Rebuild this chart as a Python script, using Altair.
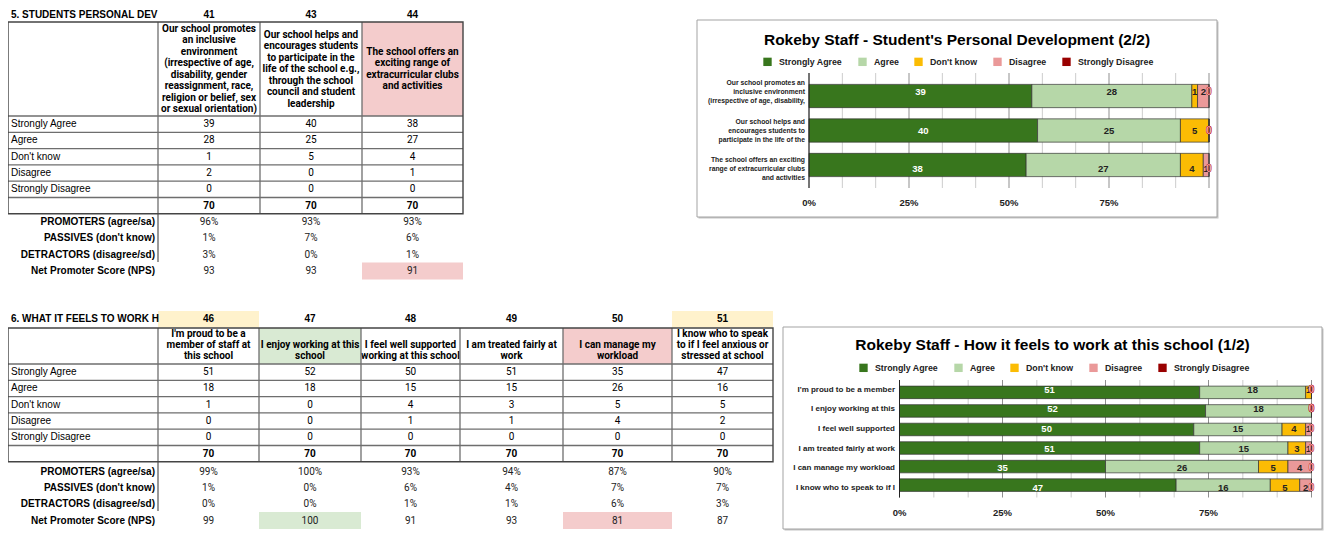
import altair as alt
import pandas as pd

# ---------------- data ----------------
categories = ["Strongly Agree", "Agree", "Don't know", "Disagree", "Strongly Disagree"]
category_colors = ["#38761d", "#b6d7a8", "#fbbc04", "#ea9999", "#990000"]
summary_labels = ["PROMOTERS (agree/sa)", "PASSIVES (don't know)",
                  "DETRACTORS (disagree/sd)", "Net Promoter Score (NPS)"]

# Section 5
s5_title = "5. STUDENTS PERSONAL DEV"
s5_numbers = ["41", "43", "44"]
s5_headers = [
    ["Our school promotes", "an inclusive", "environment", "(irrespective of age,",
     "disability, gender", "reassignment, race,", "religion or belief, sex", "or sexual orientation)"],
    ["Our school helps and", "encourages students", "to participate in the",
     "life of the school e.g.,", "through the school", "council and student", "leadership"],
    ["The school offers an", "exciting range of", "extracurricular clubs", "and activities"],
]
s5_chart_labels = [
    ["Our school promotes an", "inclusive environment", "(irrespective of age, disability,"],
    ["Our school helps and", "encourages students to", "participate in the life of the"],
    ["The school offers an exciting", "range of extracurricular clubs", "and activities"],
]
s5_strongly_agree = [39, 40, 38]
s5_agree = [28, 25, 27]
s5_dont_know = [1, 5, 4]
s5_disagree = [2, 0, 1]
s5_strongly_disagree = [0, 0, 0]
s5_total = [70, 70, 70]
s5_promoters = ["96%", "93%", "93%"]
s5_passives = ["1%", "7%", "6%"]
s5_detractors = ["3%", "0%", "1%"]
s5_nps = ["93", "93", "91"]
s5_chart_title = "Rokeby Staff - Student's Personal Development (2/2)"

# Section 6
s6_title = "6. WHAT IT FEELS TO WORK H"
s6_numbers = ["46", "47", "48", "49", "50", "51"]
s6_headers = [
    ["I'm proud to be a", "member of staff at", "this school"],
    ["I enjoy working at this", "school"],
    ["I feel well supported", "working at this school"],
    ["I am treated fairly at", "work"],
    ["I can manage my", "workload"],
    ["I know who to speak", "to if I feel anxious or", "stressed at school"],
]
s6_chart_labels = [["I'm proud to be a member"], ["I enjoy working at this"], ["I feel well supported"],
                   ["I am treated fairly at work"], ["I can manage my workload"], ["I know who to speak to if I"]]
s6_strongly_agree = [51, 52, 50, 51, 35, 47]
s6_agree = [18, 18, 15, 15, 26, 16]
s6_dont_know = [1, 0, 4, 3, 5, 5]
s6_disagree = [0, 0, 1, 1, 4, 2]
s6_strongly_disagree = [0, 0, 0, 0, 0, 0]
s6_total = [70, 70, 70, 70, 70, 70]
s6_promoters = ["99%", "100%", "93%", "94%", "87%", "90%"]
s6_passives = ["1%", "0%", "6%", "4%", "7%", "7%"]
s6_detractors = ["0%", "0%", "1%", "1%", "6%", "3%"]
s6_nps = ["99", "100", "91", "93", "81", "87"]
s6_chart_title = "Rokeby Staff - How it feels to work at this school (1/2)"

PINK = "#f4cccc"
GREEN = "#d9ead3"
YELLOW = "#fff2cc"
s5_highlights = [("header", 2, PINK), ("nps", 2, PINK)]
s6_highlights = [("number", 0, YELLOW), ("number", 5, YELLOW), ("header", 1, GREEN),
                 ("header", 4, PINK), ("nps", 1, GREEN), ("nps", 4, PINK)]

# ---------------- layout (page pixels) ----------------
W, H = 1319, 529
OX, OY = 8, 8
PX = alt.Scale(domain=[OX, OX + W], range=[0, W], nice=False, zero=False)
PY = alt.Scale(domain=[OY, OY + H], range=[0, H], nice=False, zero=False)

T5 = dict(cols=[8, 158, 260, 362, 463], title_y=15, head=(22, 116), row_h=16.3,
          sum_y0=222, sum_step=16.4, head_mode="middle", head_lh=11.5, ext_bottom=262,
          nps_cell=(262.5, 279.5), num_cell=(7, 23))
T6 = dict(cols=[8, 158, 259, 361, 460, 563, 672, 773], title_y=319, head=(328, 364), row_h=16.3,
          sum_y0=471.5, sum_step=16.4, head_mode="bottom", head_lh=11, ext_bottom=511,
          nps_cell=(512, 529), num_cell=(311, 327.5))

C5 = dict(frame=(697, 20, 1217, 217), title=(957, 40), x0=809, x1=1209, y0=73, y1=188,
          label_x=805, axis_y=203, legend=(763, 57), label_size=6.8, line_h=9)
C6 = dict(frame=(783, 327, 1322, 529), title=(1052.5, 345), x0=899.5, x1=1311.5, y0=380, y1=497.5,
          label_x=895, axis_y=513, legend=(859, 363), label_size=8, line_h=9)


def px(f):
    return alt.X(f"{f}:Q", scale=PX, axis=None)


def py(f):
    return alt.Y(f"{f}:Q", scale=PY, axis=None)


def texts(rows, align="center", font="Liberation Sans", size=10, weight="normal",
          color="#000000", **kw):
    df = pd.DataFrame(rows, columns=["x", "y", "t"])
    return alt.Chart(df).mark_text(align=align, baseline="middle", font=font, fontSize=size,
                                   fontWeight=weight, color=color, **kw).encode(
        x=px("x"), y=py("y"), text="t:N")


def rules(rows, color, width):
    df = pd.DataFrame(rows, columns=["x", "y", "x2", "y2"])
    return alt.Chart(df).mark_rule(color=color, strokeWidth=width).encode(
        x=px("x"), y=py("y"), x2="x2:Q", y2="y2:Q")


def rects(rows, **mark):
    df = pd.DataFrame(rows, columns=["x", "y", "x2", "y2"])
    return alt.Chart(df).mark_rect(**mark).encode(x=px("x"), y=py("y"), x2="x2:Q", y2="y2:Q")


def table_layers(L, title, numbers, headers, values, total, summaries, highlights):
    cols = L["cols"]
    centers = [(a + b) / 2 for a, b in zip(cols[1:-1], cols[2:])]
    head_top, head_bot = L["head"]
    edges = [head_bot + k * L["row_h"] for k in range(7)]
    left, right = cols[0], cols[-1]
    out = []
    for kind, ci, col in highlights:
        x0, x1 = cols[ci + 1], cols[ci + 2]
        if kind == "header":
            y0, y1 = head_top, head_bot
        elif kind == "nps":
            y0, y1 = L["nps_cell"]
        else:
            y0, y1 = L["num_cell"]
        out.append(rects([(x0, y0, x1, y1)], color=col))
    # title + numbers
    out.append(texts([(11, L["title_y"], title)], align="left", weight="bold", size=10))
    out.append(texts([(c, L["title_y"], n) for c, n in zip(centers, numbers)], weight="bold", size=10))
    # headers
    lh = L["head_lh"]
    hrows = []
    for c, lines in zip(centers, headers):
        n = len(lines)
        for i, s in enumerate(lines):
            if L["head_mode"] == "middle":
                y = (head_top + head_bot) / 2 + (i - (n - 1) / 2) * lh
            else:
                y = head_bot - 8.5 - (n - 1 - i) * lh
            hrows.append((c, y, s))
    out.append(texts(hrows, font="Roboto", weight="bold", size=10))
    # row labels and values
    lab_rows, val_rows, tot_rows = [], [], []
    for k, cat in enumerate(categories):
        yc = (edges[k] + edges[k + 1]) / 2
        lab_rows.append((11, yc, cat))
        for c, v in zip(centers, values[k]):
            val_rows.append((c, yc, str(v)))
    yt = (edges[5] + edges[6]) / 2
    for c, v in zip(centers, total):
        tot_rows.append((c, yt, str(v)))
    out.append(texts(lab_rows, align="left", size=10))
    out.append(texts(val_rows, font="Roboto", size=10))
    out.append(texts(tot_rows, font="Roboto", weight="bold", size=10))
    # summaries
    s_lab, s_val = [], []
    for k, (lab, vals) in enumerate(zip(summary_labels, summaries)):
        y = L["sum_y0"] + k * L["sum_step"]
        s_lab.append((155, y, lab))
        for c, v in zip(centers, vals):
            s_val.append((c, y, v))
    out.append(texts(s_lab, align="right", weight="bold", size=10))
    out.append(texts(s_val, font="Roboto", size=10, color="#222222"))
    # grid lines
    inner_h = [(left, e, right, e) for e in edges[:6]]
    inner_v = [(c, head_top, c, edges[6]) for c in cols[1:-1]]
    out.append(rules(inner_h + inner_v, "#6e6e6e", 1.3))
    out.append(rules([(cols[1], edges[6], cols[1], L["ext_bottom"])], "#555555", 1.2))
    out.append(rects([(left, head_top, right, edges[6])], fill=None, fillOpacity=0,
                     stroke="#444444", strokeWidth=1.4))
    return out


def chart_layers(C, title, labels, value_lists):
    qkeys = [f"q{i}" for i in range(len(labels))]
    XS = alt.Scale(domain=[0, 1], range=[C["x0"] - OX, C["x1"] - OX], nice=False, zero=False)
    YS = alt.Scale(domain=qkeys, range=[C["y0"] - OY, C["y1"] - OY],
                   paddingInner=0.325, paddingOuter=0.33)
    rows = []
    for i, q in enumerate(qkeys):
        for j, cat in enumerate(categories):
            rows.append(dict(q=q, cat=cat, order=j, v=value_lists[j][i]))
    df = pd.DataFrame(rows)
    fx0, fy0, fx1, fy1 = C["frame"]
    out = []
    out.append(rects([(fx0 + 1.5, fy0 + 1.5, fx1 + 1.5, fy1 + 1.5)], color="#c4c4c4"))
    out.append(rects([(fx0, fy0, fx1, fy1)], fill="#ffffff", stroke="#a3a3a3", strokeWidth=1))
    out.append(texts([(C["title"][0], C["title"][1], title)], weight="bold", size=15.5))
    # gridlines
    gdf = pd.DataFrame({"g": [k / 12 for k in range(13)], "y": C["y0"], "y2": C["y1"],
                        "major": [k % 3 == 0 for k in range(13)]})
    out.append(alt.Chart(gdf).transform_filter("!datum.major").mark_rule(
        color="#cccccc", strokeWidth=1).encode(
        x=alt.X("g:Q", scale=XS, axis=None), y=py("y"), y2="y2:Q"))
    out.append(alt.Chart(gdf).transform_filter("datum.major").mark_rule(
        color="#8f8f8f", strokeWidth=1).encode(
        x=alt.X("g:Q", scale=XS, axis=None), y=py("y"), y2="y2:Q"))
    base = alt.Chart(df).transform_stack(
        stack="v", groupby=["q"], as_=["s0", "s1"], offset="normalize",
        sort=[alt.SortField("order", order="ascending")])
    lx, ly = C["legend"]
    out.append(base.mark_bar(stroke="#333333", strokeWidth=0.7).encode(
        x=alt.X("s0:Q", scale=XS, axis=None), x2="s1:Q",
        y=alt.Y("q:N", scale=YS, axis=None),
        color=alt.Color("cat:N", scale=alt.Scale(domain=categories, range=category_colors),
                        legend=alt.Legend(orient="none", legendX=lx - OX, legendY=ly - OY,
                                          direction="horizontal", title=None, symbolType="square",
                                          symbolSize=70, symbolStrokeWidth=0, symbolOpacity=1,
                                          labelFont="Liberation Sans", labelFontSize=8.8,
                                          labelFontWeight="bold", labelColor="#222222",
                                          labelOffset=7, columnPadding=15, padding=0))))
    # zero axis line
    out.append(alt.Chart(gdf).transform_filter("datum.g == 0").mark_rule(
        color="#222222", strokeWidth=1).encode(
        x=alt.X("g:Q", scale=XS, axis=None), y=py("y"), y2="y2:Q"))
    lab = base.transform_calculate(mid="(datum.s0 + datum.s1) / 2")
    enc = dict(x=alt.X("mid:Q", scale=XS, axis=None), y=alt.Y("q:N", scale=YS, axis=None), text="v:Q")
    out.append(lab.transform_filter("datum.v > 0 && datum.order == 0").mark_text(
        font="Liberation Sans", fontSize=9.5, fontWeight="bold", color="#ffffff",
        baseline="middle").encode(**enc))
    out.append(lab.transform_filter("datum.v > 0 && datum.order > 0").mark_text(
        font="Liberation Sans", fontSize=9.5, fontWeight="bold", color="#222222",
        baseline="middle").encode(**enc))
    out.append(lab.transform_filter("datum.v == 0").mark_text(
        font="Liberation Sans", fontSize=10.5, fontWeight="bold", fill="#ffffff",
        stroke="#c00000", strokeWidth=0.55, baseline="middle").encode(**enc))
    # category labels (possibly multi-line)
    lrows = []
    for q, lines in zip(qkeys, labels):
        n = len(lines)
        for i, s in enumerate(lines):
            lrows.append(dict(q=q, line=i, n=n, t=s, x=C["label_x"]))
    ldf = pd.DataFrame(lrows)
    max_lines = max(len(l) for l in labels)
    for i in range(max_lines):
        dy = (i - (max_lines - 1) / 2) * C["line_h"]
        out.append(alt.Chart(ldf).transform_filter(f"datum.line == {i}").mark_text(
            align="right", baseline="middle", font="Liberation Sans", fontSize=C["label_size"],
            fontWeight="bold", color="#222222", dy=dy).encode(
            x=px("x"), y=alt.Y("q:N", scale=YS, axis=None), text="t:N"))
    # x axis labels
    tdf = pd.DataFrame({"g": [0, 0.25, 0.5, 0.75], "t": ["0%", "25%", "50%", "75%"], "y": C["axis_y"]})
    out.append(alt.Chart(tdf).mark_text(font="Liberation Sans", fontSize=9.5, fontWeight="bold",
                                        color="#222222", baseline="middle").encode(
        x=alt.X("g:Q", scale=XS, axis=None), y=py("y"), text="t:N"))
    return out


layers = []
layers += table_layers(T5, s5_title, s5_numbers, s5_headers,
                       [s5_strongly_agree, s5_agree, s5_dont_know, s5_disagree, s5_strongly_disagree],
                       s5_total, [s5_promoters, s5_passives, s5_detractors, s5_nps], s5_highlights)
layers += table_layers(T6, s6_title, s6_numbers, s6_headers,
                       [s6_strongly_agree, s6_agree, s6_dont_know, s6_disagree, s6_strongly_disagree],
                       s6_total, [s6_promoters, s6_passives, s6_detractors, s6_nps], s6_highlights)
layers += chart_layers(C5, s5_chart_title, s5_chart_labels,
                       [s5_strongly_agree, s5_agree, s5_dont_know, s5_disagree, s5_strongly_disagree])
layers += chart_layers(C6, s6_chart_title, s6_chart_labels,
                       [s6_strongly_agree, s6_agree, s6_dont_know, s6_disagree, s6_strongly_disagree])

chart = alt.layer(*layers).resolve_scale(
    x="independent", y="independent", color="independent"
).properties(
    width=W, height=H, padding=0, background="white",
    autosize=alt.AutoSizeParams(type="none"),
).configure_view(stroke=None)

chart.save("out.html", embed_options={"renderer": "svg", "actions": False})
